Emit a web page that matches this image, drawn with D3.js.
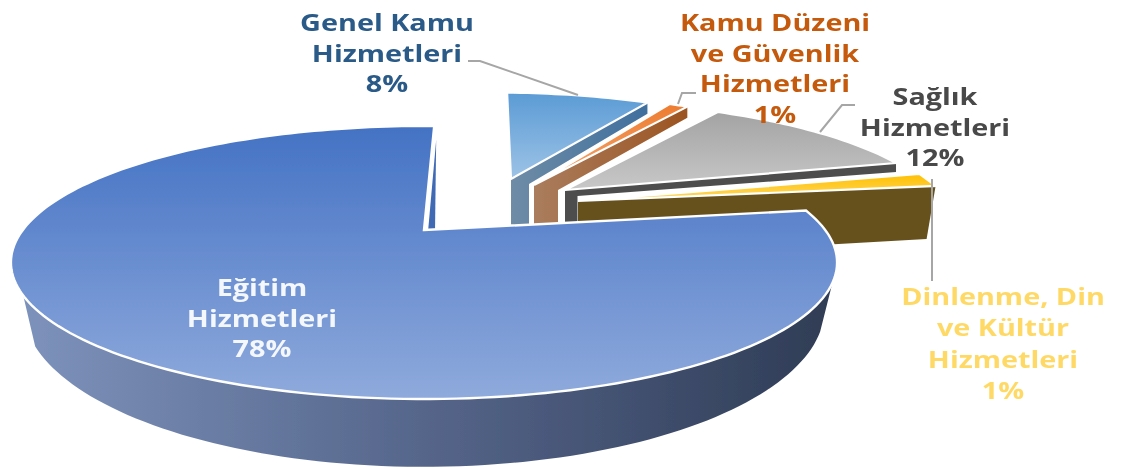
<!DOCTYPE html>
<html><head><meta charset="utf-8">
<script src="https://cdnjs.cloudflare.com/ajax/libs/d3/7.8.5/d3.min.js"></script>
<style>html,body{margin:0;background:#fff}svg{display:block}text{font-family:"Open Sans",sans-serif;font-weight:700;text-anchor:middle}</style>
</head><body><svg id="c" width="1123" height="469"></svg>
<script>
const categories = ["Genel Kamu Hizmetleri","Kamu Düzeni ve Güvenlik Hizmetleri","Sağlık Hizmetleri","Dinlenme, Din ve Kültür Hizmetleri","Eğitim Hizmetleri"];
const values = [8,1,12,1,78];
const labelLines = [["Genel Kamu","Hizmetleri"],["Kamu Düzeni","ve Güvenlik","Hizmetleri"],["Sağlık","Hizmetleri"],["Dinlenme, Din","ve Kültür","Hizmetleri"],["Eğitim","Hizmetleri"]];
const labelColors = ["#2a5a88","#c55a11","#484848","#ffd966","#f4f7fc"];
const labelAnchors = [[387,31],[775,31],[935,105],[1003,305],[262,296]];
const labelSteps = [30.5,30.7,30.5,31.3,30.5];
const faceStops = [["#5b9bd5","#9dc3e6"],["#ed7d31","#f4a670"],["#a3a3a3","#c8c8c8"],["#ffc000","#ffd966"],["#4472c4","#8faadc"]];
const wallStops = [["#6f8ca6","#3f6f9e"],["#aa7d5e","#9c5420"],["#4d4d4d","#4d4d4d"],["#66511f","#66511f"]];
// apex x,y and matrix [xx, xy, yx, yy] of each exploded slice
const explode = [[511,179,.874,.1225,0,.83],[534,185,.911,.2,0,.88],[565,190,.906,.195,-.0114,.852],[578,201,.985,.905,.0414,1.587],[424,230,1.003,0,0,1]];
// wall: inner width, inner drop, tip dx, tip drop, floor drop
const walls = [[18,5,0,11,50],[24,5,0,11,45],[12.5,6,0,9,40],[0,58,-9,53,58]];
const leaders = [[[468,61],[480,61],[578,95]],[[696,93],[682,93],[678,104]],[[855,105],[842,105],[820,132]],[[932,179],[932,281]]];

const svg = d3.select("#c"), defs = svg.append("defs");
defs.append("filter").attr("id","soft").attr("x",0).attr("y",0).attr("width",1).attr("height",1)
  .append("feGaussianBlur").attr("stdDeviation",.6);
const root = svg.append("g").attr("filter","url(#soft)");
function grad(id,stops,horizontal){
  const g=defs.append("linearGradient").attr("id",id).attr("x1",0).attr("y1",0).attr("x2",horizontal?1:0).attr("y2",horizontal?0:1);
  stops.forEach((c,i)=>g.append("stop").attr("offset",i/(stops.length-1)).attr("stop-color",c));
}
const K=.238,A=400,B=128.8;
const proj=t=>{const X=Math.sin(t),Y=-Math.cos(t),d=1-K*Y;return [A*X/d,B*Y/d];};
const pie=d3.pie().sort(null).startAngle(1.8*Math.PI/180).endAngle((361.8)*Math.PI/180)(values);
const place=(i,p)=>{const e=explode[i];return [e[0]+e[2]*p[0]+e[3]*p[1],e[1]+e[4]*p[0]+e[5]*p[1]];};
const samples=(a,b,n)=>d3.range(n+1).map(k=>a+(b-a)*k/n);
const line=d3.line();
const rim=(i,a,b)=>samples(a,b,Math.max(6,Math.ceil((b-a)*40))).map(t=>place(i,proj(t)));

// main wall (front of the largest slice)
const deg=Math.PI/180;
const topEdge=samples(112*deg,243*deg,90).map(t=>place(4,proj(t)));
const cx=423;
const toFloor=p=>[cx+(p[0]-cx)*.97,1.163*p[1]+2.75];
const wallPts=topEdge.concat(topEdge.map(toFloor).reverse());
grad("mainWall",["#7d92bb","#55658a","#2f3c55"],true);
root.append("path").attr("d",line(wallPts)+"Z").attr("fill","url(#mainWall)");

// exploded slices
[0,1,2,3].forEach(i=>{
  const d=pie[i],e=explode[i],w=walls[i];
  const tip=place(i,proj(d.endAngle));
  const poly=[[e[0],e[1]],tip,[tip[0]+w[2],tip[1]+w[3]],[e[0]+w[0],e[1]+w[1]],[e[0]+w[0],e[1]+w[4]],[e[0],e[1]+w[4]]];
  grad("wall"+i,wallStops[i],true);
  grad("face"+i,faceStops[i],false);
  root.append("path").attr("d",line(poly)+"Z").attr("fill","url(#wall"+i+")");
  root.append("path").attr("d",line([[e[0],e[1]],...rim(i,d.startAngle,d.endAngle)])+"Z")
    .attr("fill","url(#face"+i+")").attr("stroke","#fff").attr("stroke-width",2.2).attr("stroke-linejoin","miter");
});

// notch strip and main face
const d4=pie[4],e4=explode[4],topP=place(4,proj(d4.endAngle));
root.append("path").attr("d",line([[topP[0]+2,topP[1]+14],[e4[0]+11,e4[1]+2],[e4[0]+4,e4[1]+2]])+"Z").attr("fill","#3f6ab4");
grad("face4",faceStops[4],false);
root.append("path").attr("d",line([[e4[0],e4[1]],...rim(4,d4.startAngle,d4.endAngle)])+"Z")
  .attr("fill","url(#face4)").attr("stroke","#fff").attr("stroke-width",2.4);

// leaders
leaders.forEach(l=>root.append("path").attr("d",line(l)).attr("fill","none").attr("stroke","#a6a6a6").attr("stroke-width",2));

// labels, stretched horizontally like the reference
labelLines.forEach((ls,i)=>{
  const [x,y]=labelAnchors[i];
  [...ls,Math.round(values[i])+"%"].forEach((s,j)=>{
    root.append("text").attr("transform",`translate(${x},${y+j*labelSteps[i]}) scale(1.2,1)`).attr("fill",labelColors[i]).attr("font-size",24).text(s);
  });
});
</script></body></html>
